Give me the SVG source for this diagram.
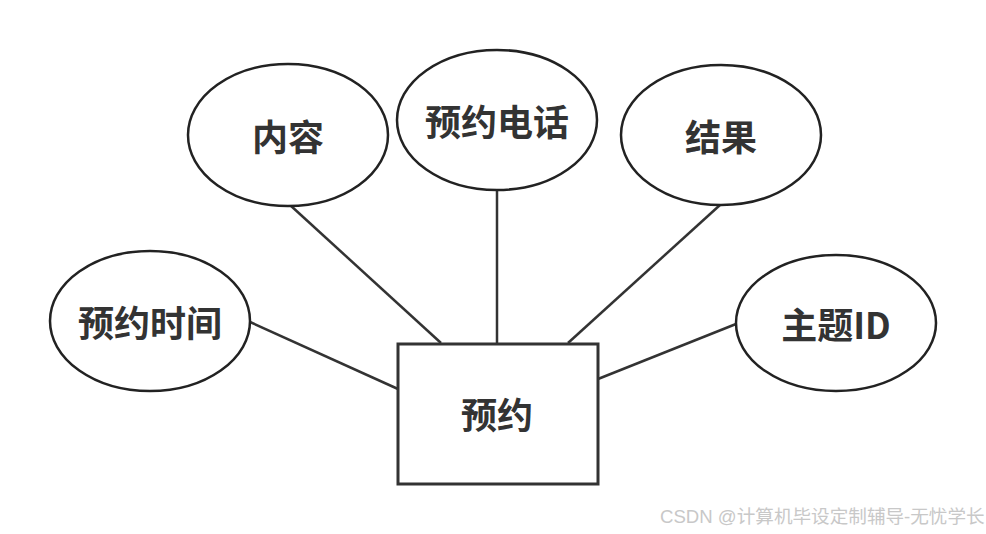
<svg xmlns="http://www.w3.org/2000/svg" width="986" height="534" viewBox="0 0 986 534">
<style>
.e{fill:#fff;stroke:#222;stroke-width:2.5}
.r{fill:#fff;stroke:#333;stroke-width:3}
.l{stroke:#333;stroke-width:2.5;fill:none}
.t{font-family:"Noto Sans CJK SC","Noto Sans",sans-serif;font-weight:bold;font-size:36px;fill:#333;text-anchor:middle;dominant-baseline:central}
.w{font-family:"Liberation Sans","Noto Sans CJK SC",sans-serif;font-size:18.6px;fill:#c8c8c8}
</style>
<rect width="986" height="534" fill="#fff"/>
<g id="connectors">
<line class="l" x1="290" y1="205" x2="441" y2="343"/>
<line class="l" x1="497" y1="190" x2="497" y2="343"/>
<line class="l" x1="720" y1="205" x2="568" y2="343"/>
<line class="l" x1="250" y1="322" x2="398" y2="389"/>
<line class="l" x1="736" y1="324" x2="598" y2="379"/>
</g>
<g id="node-neirong"><ellipse class="e" cx="288" cy="135" rx="100" ry="71"/><text class="t" x="288" y="135">内容</text></g>
<g id="node-dianhua"><ellipse class="e" cx="497" cy="120" rx="100" ry="70"/><text class="t" x="497" y="120">预约电话</text></g>
<g id="node-jieguo"><ellipse class="e" cx="721" cy="135" rx="100" ry="70"/><text class="t" x="721" y="135">结果</text></g>
<g id="node-shijian"><ellipse class="e" cx="150" cy="321" rx="100" ry="70"/><text class="t" x="150" y="321">预约时间</text></g>
<g id="node-zhuti"><ellipse class="e" cx="836" cy="323" rx="100" ry="68"/><text class="t" x="836" y="323">主题ID</text></g>
<g id="node-yuyue"><rect class="r" x="398" y="344" width="200" height="140"/><text class="t" x="497" y="413">预约</text></g>
<text class="w" x="660" y="523">CSDN @计算机毕设定制辅导-无忧学长</text>
</svg>
